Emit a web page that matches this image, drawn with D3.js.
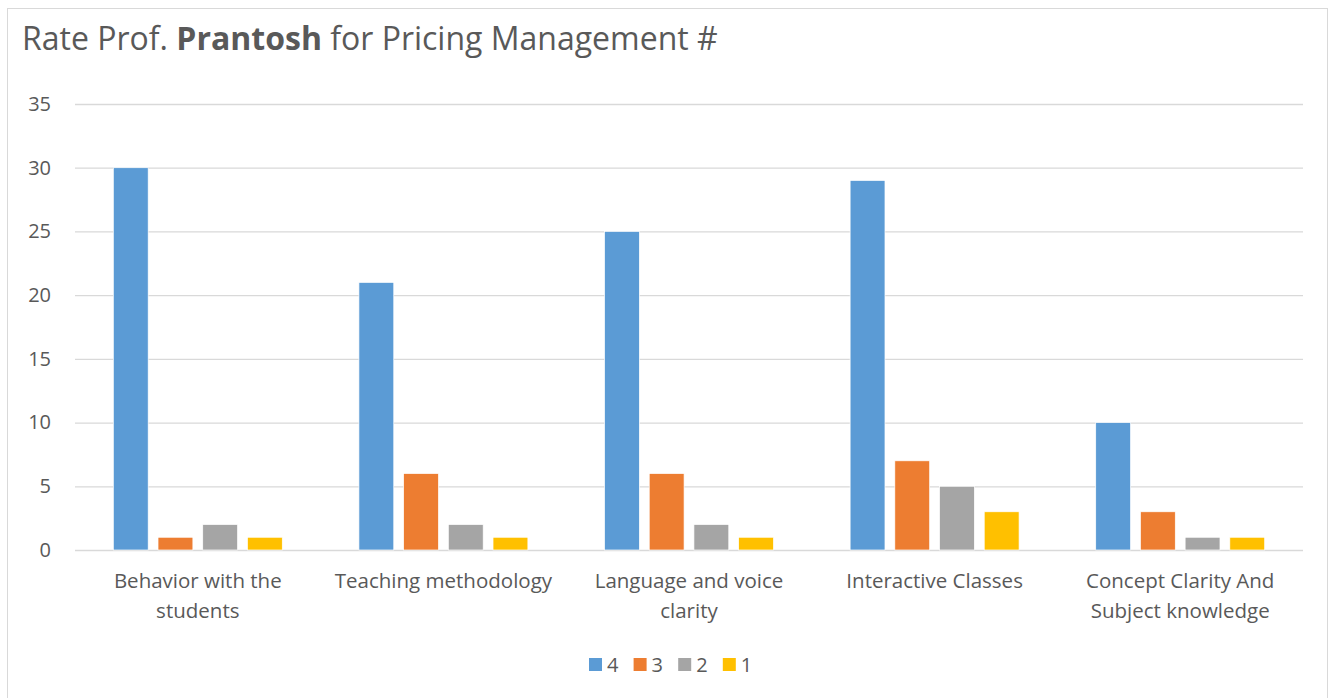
<!DOCTYPE html>
<html>
<head>
<meta charset="utf-8">
<script src="https://cdn.jsdelivr.net/npm/d3@7"></script>
<style>
  body { margin: 0; background: #fff; }
  svg text { font-family: "Open Sans", Lato, sans-serif; fill: #595959; }
</style>
</head>
<body>
<div id="chart"></div>
<script>
// chart data
var categories = [
    ["Behavior with the", "students"],
    ["Teaching methodology"],
    ["Language and voice", "clarity"],
    ["Interactive Classes"],
    ["Concept Clarity And", "Subject knowledge"]
];
var seriesNames = ["4", "3", "2", "1"];
var seriesColors = ["#5b9bd5", "#ed7d31", "#a5a5a5", "#ffc000"];
var rating4 = [30, 21, 25, 29, 10];
var rating3 = [1, 6, 6, 7, 3];
var rating2 = [2, 2, 2, 5, 1];
var rating1 = [1, 1, 1, 3, 1];
var yTicks = [0, 5, 10, 15, 20, 25, 30, 35];

var seriesValues = [rating4, rating3, rating2, rating1];

var width = 1333, height = 698;
var margin = {top: 104, right: 30, bottom: 148, left: 75};

var svg = d3.select("#chart").append("svg")
    .attr("width", width)
    .attr("height", height);

// outer frame
svg.append("rect")
    .attr("x", 7.5).attr("y", 8.5)
    .attr("width", 1320).attr("height", 700)
    .attr("fill", "none")
    .attr("stroke", "#d9d9d9");

// title
var title = svg.append("text")
    .attr("x", 22).attr("y", 50)
    .style("font-size", "32px");
title.append("tspan").text("Rate Prof. ");
title.append("tspan").style("font-weight", "bold").text("Prantosh");
title.append("tspan").text(" for Pricing Management #");

var x0 = d3.scaleBand()
    .domain(d3.range(categories.length))
    .range([margin.left, width - margin.right])
    .paddingInner(0.312)
    .paddingOuter(0.156);

var x1 = d3.scaleBand()
    .domain(seriesNames)
    .range([0, x0.bandwidth()])
    .paddingInner(0.22);

var y = d3.scaleLinear()
    .domain([0, 35])
    .range([height - margin.bottom, margin.top]);

// gridlines + tick labels
var yAxis = d3.axisLeft(y)
    .tickValues(yTicks)
    .tickSize(-(width - margin.right - margin.left))
    .tickPadding(24);

var gy = svg.append("g")
    .attr("transform", "translate(" + margin.left + ",0)")
    .call(yAxis);
gy.select(".domain").remove();
gy.selectAll(".tick line").attr("stroke", "#d9d9d9").attr("stroke-width", 1.3);
gy.selectAll(".tick text")
    .style("font-size", "20px")
    .style("fill", "#595959")
    .attr("font-family", null);

// bars
var groups = svg.selectAll("g.cat")
    .data(categories)
    .enter().append("g")
    .attr("class", "cat")
    .attr("transform", function (d, i) { return "translate(" + x0(i) + ",0)"; });

groups.selectAll("rect")
    .data(function (d, i) {
        return seriesNames.map(function (s, j) {
            return {name: s, value: seriesValues[j][i], color: seriesColors[j]};
        });
    })
    .enter().append("rect")
    .attr("x", function (d) { return x1(d.name); })
    .attr("width", x1.bandwidth())
    .attr("y", function (d) { return y(d.value); })
    .attr("height", function (d) { return y(0) - y(d.value); })
    .attr("fill", function (d) { return d.color; })
    .attr("stroke", "#fff")
    .attr("stroke-width", 0.7);

// category labels
groups.append("text")
    .attr("text-anchor", "middle")
    .style("font-size", "20.5px")
    .selectAll("tspan")
    .data(function (d) { return d; })
    .enter().append("tspan")
    .attr("x", x0.bandwidth() / 2)
    .attr("y", function (d, i) { return 588 + i * 30; })
    .text(function (d) { return d; });

// legend
var legend = svg.append("g").attr("transform", "translate(589,658)");
var items = legend.selectAll("g")
    .data(seriesNames)
    .enter().append("g")
    .attr("transform", function (d, i) { return "translate(" + (i * 44.6) + ",0)"; });
items.append("rect")
    .attr("width", 13).attr("height", 13)
    .attr("fill", function (d, i) { return seriesColors[i]; });
items.append("text")
    .attr("x", 18).attr("y", 14)
    .style("font-size", "20px")
    .text(function (d) { return d; });
</script>
</body>
</html>
